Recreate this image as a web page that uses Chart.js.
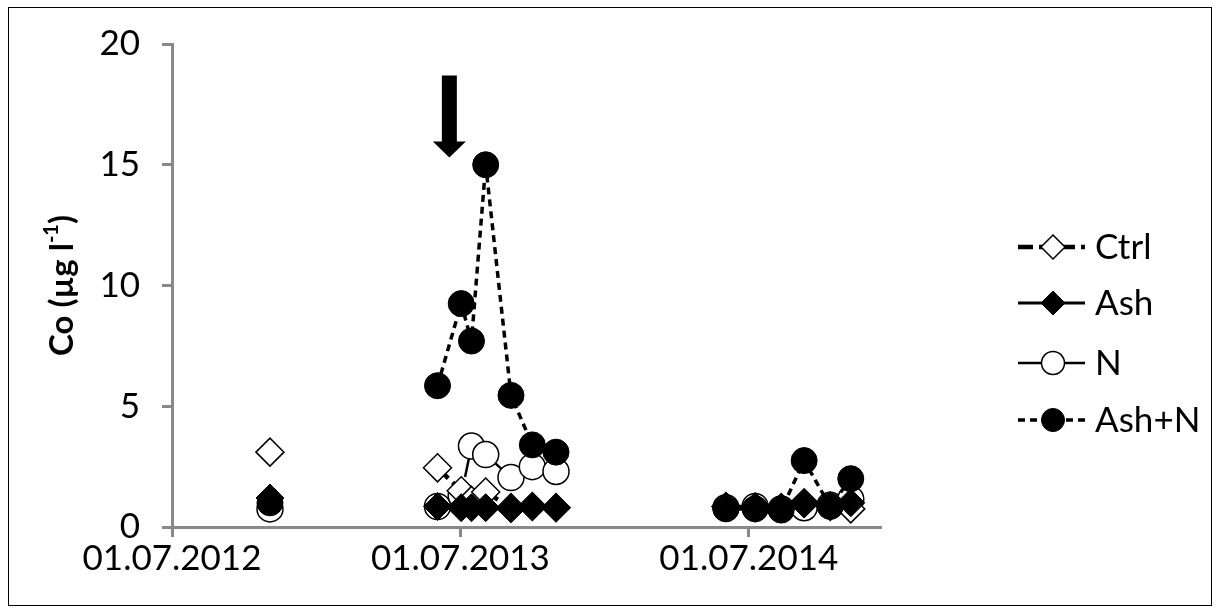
<!DOCTYPE html>
<html>
<head>
<meta charset="utf-8">
<script src="https://cdn.jsdelivr.net/npm/chart.js@4.4.1/dist/chart.umd.min.js"></script>
<style>
  html, body { margin: 0; padding: 0; background: #fff; }
  #wrap { width: 1220px; height: 614px; }
</style>
</head>
<body>
<div id="wrap"><canvas id="chart" width="1220" height="614"></canvas></div>
<script>
// sampling dates; the rows with null everywhere mark the gap between campaigns
const sampleDates = [
    '2012-11-02',
    '2013-02-15',
    '2013-06-02', '2013-07-02', '2013-07-15', '2013-08-02', '2013-09-03', '2013-09-30', '2013-10-30',
    '2014-02-15',
    '2014-06-02', '2014-07-09', '2014-08-11', '2014-09-09', '2014-10-12', '2014-11-07'
];
const ctrlValues = [3.1, null, 2.45, 1.5, 1.1, 1.45, 0.8, 0.85, 0.8, null, 0.85, 0.8, 0.8, 1.0, 0.85, 0.75];
const ashValues  = [1.2, null, 0.85, 0.8, 0.8, 0.8, 0.75, 0.85, 0.8, null, 0.85, 0.85, 0.8, 0.95, 0.9, 1.0];
const nValues    = [0.75, null, 0.85, 1.3, 3.35, 3.0, 2.05, 2.5, 2.3, null, 0.8, 0.85, 0.75, 0.8, 0.9, 1.15];
const ashNValues = [1.0, null, 5.85, 9.25, 7.7, 15.0, 5.45, 3.4, 3.1, null, 0.75, 0.75, 0.7, 2.75, 0.85, 2.0];

const seriesNames = ['Ctrl', 'Ash', 'N', 'Ash+N'];
const xTickLabels = ['01.07.2012', '01.07.2013', '01.07.2014'];
const axisStart = '2012-07-01';
const axisEnd = '2014-12-14';

// treatment arrow
const arrowDate = '2013-06-17';
const arrowFrom = 18.7;
const arrowTo = 15.3;

const DAY = 86400000;
const toDay = s => Date.parse(s + 'T00:00:00Z') / DAY;
const labelToDay = l => { const [d, m, y] = l.split('.'); return toDay(`${y}-${m}-${d}`); };
const dayToLabel = v => {
    const d = new Date(v * DAY);
    const p = n => String(n).padStart(2, '0');
    return `${p(d.getUTCDate())}.${p(d.getUTCMonth() + 1)}.${d.getUTCFullYear()}`;
};
const points = vals => sampleDates.map((s, i) => ({ x: toDay(s), y: vals[i] }));

const FONT = 'Lato, "Open Sans", sans-serif';
const AXIS = '#898989';

const datasets = [
    {
        label: seriesNames[0], data: points(ctrlValues), order: 3,
        borderColor: '#000', borderWidth: 4.5, borderDash: [15, 6],
        pointStyle: 'rectRot', pointRadius: 14, pointBackgroundColor: '#fff',
        pointBorderColor: '#000', pointBorderWidth: 1.5
    },
    {
        label: seriesNames[1], data: points(ashValues), order: 1,
        borderColor: '#000', borderWidth: 3, borderDash: [],
        pointStyle: 'rectRot', pointRadius: 14, pointBackgroundColor: '#000',
        pointBorderColor: '#000', pointBorderWidth: 1
    },
    {
        label: seriesNames[2], data: points(nValues), order: 4,
        borderColor: '#000', borderWidth: 2.5, borderDash: [26, 8, 3, 8],
        pointStyle: 'circle', pointRadius: 13, pointBackgroundColor: '#fff',
        pointBorderColor: '#000', pointBorderWidth: 1.5
    },
    {
        label: seriesNames[3], data: points(ashNValues), order: 2,
        borderColor: '#000', borderWidth: 3.5, borderDash: [7, 5],
        pointStyle: 'circle', pointRadius: 13, pointBackgroundColor: '#000',
        pointBorderColor: '#000', pointBorderWidth: 1
    }
];

const framePlugin = {
    id: 'frame',
    beforeDraw(chart) {
        const ctx = chart.ctx;
        ctx.save();
        ctx.fillStyle = '#fff';
        ctx.fillRect(0, 0, chart.width, chart.height);
        ctx.strokeStyle = '#000';
        ctx.lineWidth = 1;
        ctx.strokeRect(8.5, 7.5, 1203, 598);
        ctx.restore();
    }
};

const yTitlePlugin = {
    id: 'yTitle',
    afterDraw(chart) {
        const { ctx, chartArea } = chart;
        const big = `bold 33px ${FONT}`, small = `bold 20px ${FONT}`;
        ctx.save();
        ctx.translate(62, (chartArea.top + chartArea.bottom) / 2);
        ctx.rotate(-Math.PI / 2);
        ctx.fillStyle = '#000';
        ctx.textBaseline = 'middle';
        ctx.font = big;
        const w1 = ctx.measureText('Co (µg l').width;
        const w3 = ctx.measureText(')').width;
        ctx.font = small;
        const w2 = ctx.measureText('-1').width;
        let x = -(w1 + w2 + w3) / 2;
        ctx.font = big; ctx.fillText('Co (µg l', x, 0); x += w1;
        ctx.font = small; ctx.fillText('-1', x, -10); x += w2;
        ctx.font = big; ctx.fillText(')', x, 0);
        ctx.restore();
    }
};

const arrowPlugin = {
    id: 'arrow',
    afterDatasetsDraw(chart) {
        const { ctx, scales: { x, y } } = chart;
        const cx = x.getPixelForValue(toDay(arrowDate));
        const top = y.getPixelForValue(arrowFrom);
        const tip = y.getPixelForValue(arrowTo);
        const shaft = 7.5, head = 16.5, headLen = 16;
        ctx.save();
        ctx.fillStyle = '#000';
        ctx.beginPath();
        ctx.moveTo(cx - shaft, top);
        ctx.lineTo(cx + shaft, top);
        ctx.lineTo(cx + shaft, tip - headLen);
        ctx.lineTo(cx + head, tip - headLen);
        ctx.lineTo(cx, tip);
        ctx.lineTo(cx - head, tip - headLen);
        ctx.lineTo(cx - shaft, tip - headLen);
        ctx.closePath();
        ctx.fill();
        ctx.restore();
    }
};

const legendPlugin = {
    id: 'sideLegend',
    afterDraw(chart) {
        const ctx = chart.ctx;
        const rows = [247, 303, 363, 420];
        const x0 = 1018, x1 = 1085, mx = 1053, tx = 1095;
        chart.data.datasets.forEach((ds, i) => {
            const yy = rows[i];
            ctx.save();
            ctx.strokeStyle = ds.borderColor;
            ctx.lineWidth = ds.borderWidth;
            ctx.setLineDash(ds.borderDash);
            ctx.beginPath();
            ctx.moveTo(x0, yy);
            ctx.lineTo(x1, yy);
            ctx.stroke();
            ctx.setLineDash([]);
            ctx.fillStyle = ds.pointBackgroundColor;
            ctx.strokeStyle = ds.pointBorderColor;
            ctx.lineWidth = ds.pointBorderWidth;
            Chart.helpers.drawPoint(ctx, {
                pointStyle: ds.pointStyle, rotation: 0,
                radius: ds.pointStyle === 'circle' ? 11.5 : 12,
                borderWidth: ds.pointBorderWidth
            }, mx, yy);
            ctx.fillStyle = '#000';
            ctx.font = `35px ${FONT}`;
            ctx.textBaseline = 'middle';
            ctx.fillText(ds.label, tx, yy + 1);
            ctx.restore();
        });
    }
};

new Chart(document.getElementById('chart'), {
    type: 'line',
    data: { datasets },
    options: {
        responsive: false,
        animation: false,
        spanGaps: false,
        layout: { padding: { left: 0, top: 44, right: 340, bottom: 0 } },
        plugins: {
            legend: { display: false },
            tooltip: { enabled: false }
        },
        scales: {
            x: {
                type: 'linear',
                min: toDay(axisStart),
                max: toDay(axisEnd),
                afterBuildTicks: scale => {
                    scale.ticks = xTickLabels.map(l => ({ value: labelToDay(l) }));
                },
                afterFit: scale => { scale.height = 87; },
                grid: {
                    display: true, drawOnChartArea: false, drawTicks: true,
                    tickLength: 10, color: AXIS, lineWidth: 3
                },
                border: { display: true, color: AXIS, width: 3 },
                ticks: {
                    autoSkip: false, maxRotation: 0, padding: 1,
                    color: '#000', font: { family: FONT, size: 35 },
                    callback: v => dayToLabel(v)
                }
            },
            y: {
                min: 0,
                max: 20,
                afterFit: scale => { scale.width = 172; },
                grid: {
                    display: true, drawOnChartArea: false, drawTicks: true,
                    tickLength: 10, color: AXIS, lineWidth: 3
                },
                border: { display: true, color: AXIS, width: 3 },
                ticks: {
                    stepSize: 5, padding: 22,
                    color: '#000', font: { family: FONT, size: 35 }
                }
            }
        }
    },
    plugins: [framePlugin, yTitlePlugin, arrowPlugin, legendPlugin]
});
</script>
</body>
</html>
